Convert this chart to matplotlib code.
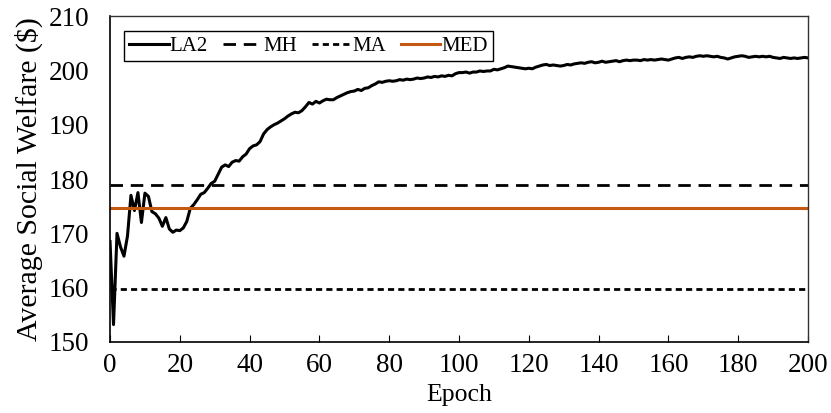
import matplotlib
matplotlib.use("Agg")
from matplotlib import pyplot as plt

epochs = list(range(0, 201))
la2 = [
    168.5, 153.2, 170.0, 167.5, 165.8, 169.5, 177.0, 174.2, 177.5, 172.0,
    177.4, 176.8, 174.0, 173.6, 172.8, 171.3, 172.9, 170.8, 170.2, 170.6,
    170.5, 171.0, 172.2, 174.6, 175.3, 176.2, 177.2, 177.5, 178.3, 179.2,
    179.6, 180.9, 182.2, 182.6, 182.3, 183.1, 183.4, 183.3, 184.1, 184.6,
    185.6, 186.1, 186.3, 186.9, 188.3, 189.1, 189.6, 190.0, 190.3, 190.7,
    191.1, 191.6, 192.0, 192.3, 192.2, 192.6, 193.3, 194.1, 193.8, 194.3,
    194.0, 194.4, 194.7, 194.6, 194.6, 195.0, 195.3, 195.6, 195.9, 196.1,
    196.2, 196.5, 196.3, 196.7, 196.8, 197.2, 197.5, 197.9, 197.8, 198.0,
    198.1, 198.0, 198.1, 198.3, 198.2, 198.4, 198.3, 198.4, 198.6, 198.5,
    198.6, 198.8, 198.7, 198.9, 198.8, 199.0, 198.9, 199.1, 199.0, 199.4,
    199.6, 199.6, 199.7, 199.5, 199.7, 199.7, 199.9, 199.8, 199.9, 199.9,
    200.2, 200.1, 200.3, 200.5, 200.8, 200.7, 200.6, 200.5, 200.4, 200.3,
    200.4, 200.3, 200.6, 200.8, 201.0, 201.1, 200.9, 201.0, 200.9, 200.8,
    200.9, 201.1, 201.0, 201.2, 201.3, 201.4, 201.3, 201.5, 201.6, 201.4,
    201.5, 201.7, 201.5, 201.6, 201.7, 201.8, 201.6, 201.8, 201.9, 201.8,
    201.9, 201.9, 201.8, 202.0, 201.9, 202.0, 201.9, 202.0, 202.1, 202.0,
    201.9, 202.1, 202.3, 202.4, 202.2, 202.4, 202.5, 202.4, 202.6, 202.7,
    202.6, 202.7, 202.6, 202.5, 202.6, 202.4, 202.3, 202.1, 202.3, 202.5,
    202.6, 202.7, 202.6, 202.4, 202.5, 202.6, 202.5, 202.6, 202.5, 202.6,
    202.4, 202.3, 202.2, 202.4, 202.3, 202.2, 202.3, 202.2, 202.3, 202.4,
    202.3,
]
mh = 178.9
ma = 159.7
med = 174.7

xticks = list(range(0, 201, 20))
yticks = list(range(150, 211, 10))

plt.rcParams["font.family"] = ["Liberation Serif", "DejaVu Serif"]

fig = plt.figure(figsize=(8.31, 4.13), dpi=100)
ax = fig.add_axes([0.1324, 0.172, 0.8399, 0.789])

ax.plot(epochs, la2, color="black", lw=2.2, label="LA2")
ax.axhline(mh, color="black", lw=2.0, dashes=(4.5, 2.8), label="MH")
ax.axhline(ma, color="black", lw=2.0, dashes=(2.2, 1.5), label="MA")
ax.axhline(med, color="#C65911", lw=2.2, label="MED")

ax.set_xlim(0, 200)
ax.set_ylim(150, 210)
ax.set_xticks(xticks)
ax.set_yticks(yticks)
ax.tick_params(axis="x", direction="in", length=5, labelsize=19.5, pad=8)
ax.tick_params(axis="y", length=0, labelsize=19.5, pad=15)
ax.set_xlabel("Epoch", fontsize=18.5, labelpad=4)
ax.set_ylabel("Average Social Welfare ($)", fontsize=21.5, labelpad=4)

for side in ["top", "right"]:
    ax.spines[side].set_color("#333333")
    ax.spines[side].set_linewidth(1.0)
ax.spines["left"].set_linewidth(1.2)
ax.spines["bottom"].set_linewidth(1.2)

leg = ax.legend(loc="upper left", ncol=4, fontsize=15, frameon=True,
                fancybox=False, edgecolor="black", framealpha=1,
                handlelength=1.9, handletextpad=0.05, columnspacing=0.7,
                borderpad=0.25, bbox_to_anchor=(0.005, 0.985))
leg.get_frame().set_linewidth(1.0)

fig.savefig("out.png", dpi=100)
